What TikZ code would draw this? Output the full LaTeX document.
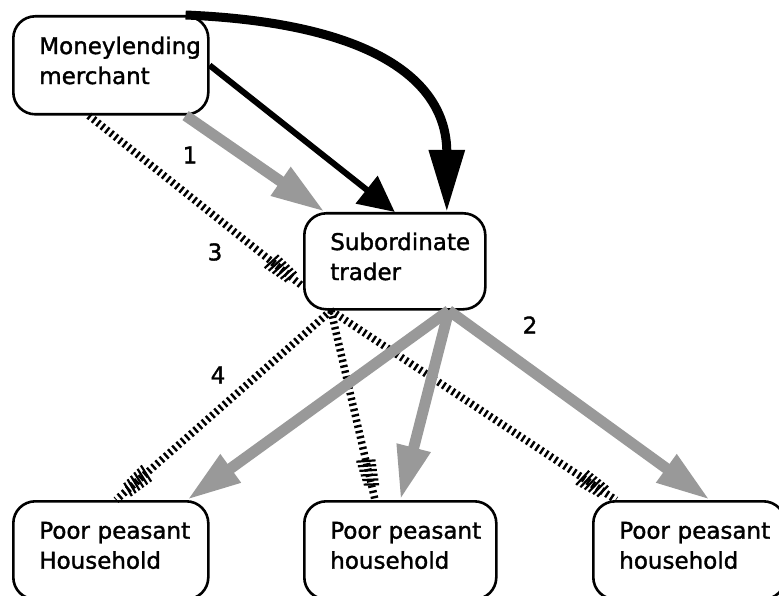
\documentclass[tikz,border=0pt]{standalone}
\usepackage{fontspec}
\setmainfont{DejaVu Sans}[FakeBold=1.5]
\usetikzlibrary{arrows.meta, decorations.markings}

\tikzset{
  every node/.style={font=\fontsize{23pt}{30pt}\selectfont},
  actor/.style={draw, line width=2.6pt, rounded corners=22pt, anchor=north west,
                align=left, inner xsep=26pt, minimum height=98pt, text depth=40pt},
  debtflow/.style={line width=9pt, -{Triangle[width=34pt,length=62pt]}},
  cashflow/.style={line width=6pt, -{Triangle[width=34pt,length=36pt]}},
  goodsflow/.style={draw=black!40, line width=11pt, -{Triangle[width=32pt,length=54pt]}},
  hatchflow/.style={line width=7.5pt, dash pattern=on 2.4pt off 3.2pt,
    postaction={decorate, decoration={markings, mark=at position -40pt with {
      \foreach \k in {0,...,5}
        \draw[solid, line width=2.2pt] (\k*4.8pt-1.5pt, {-9.5pt+\k*0.4pt}) -- (\k*4.8pt+1.5pt, {9.5pt-\k*0.4pt});
    }}}},
}

\begin{document}
\begin{tikzpicture}[x=1pt, y=-1pt]
    \useasboundingbox (0,0) rectangle (779,596);

    % the five parties
    \node[actor, text width=143pt] (merchant) at (12,15) {Moneylending\\merchant};
    \node[actor, text width=129pt, minimum height=96pt] (trader) at (303,212) {Subordinate\\trader};
    \node[actor, text width=143pt] (hhA) at (12,500) {\mbox{Poor peasant}\\Household};
    \node[actor, text width=140pt] (hhB) at (303,500) {\mbox{Poor peasant}\\household};
    \node[actor, text width=140pt] (hhC) at (592,500) {\mbox{Poor peasant}\\household};

    % hatched flows
    \draw[hatchflow] ([xshift=-22pt]merchant.south) -- ([yshift=24pt]trader.south west);
    \draw[hatchflow] ([xshift=28pt]trader.south west) -- ([xshift=104pt]hhA.north west);
    \draw[hatchflow] ([xshift=28pt]trader.south west) -- ([xshift=72pt]hhB.north west);
    \draw[hatchflow] ([xshift=28pt]trader.south west) -- ([xshift=24pt]hhC.north west);

    % stippled flows
    \draw[goodsflow] ([xshift=-24pt]merchant.south east) -- ([xshift=22pt]trader.north west);
    \draw[goodsflow] ([xshift=54pt]trader.south) -- ([xshift=175pt]hhA.north west);
    \draw[goodsflow] ([xshift=54pt]trader.south) -- (hhB.north);
    \draw[goodsflow] ([xshift=54pt]trader.south) -- ([xshift=118pt]hhC.north west);

    % black flows
    \draw[cashflow] (merchant.east) -- (trader.north);
    \draw[debtflow] ([xshift=-24pt]merchant.north east)
          .. controls +(190,8) and +(0,-130) .. ([xshift=52pt]trader.north);

    % numbers
    \node (one) at (190,155) {1};
    \node (two) at (530,325) {2};
    \node (three) at (215,252) {3};
    \node (four) at (218,375) {4};
\end{tikzpicture}
\end{document}
